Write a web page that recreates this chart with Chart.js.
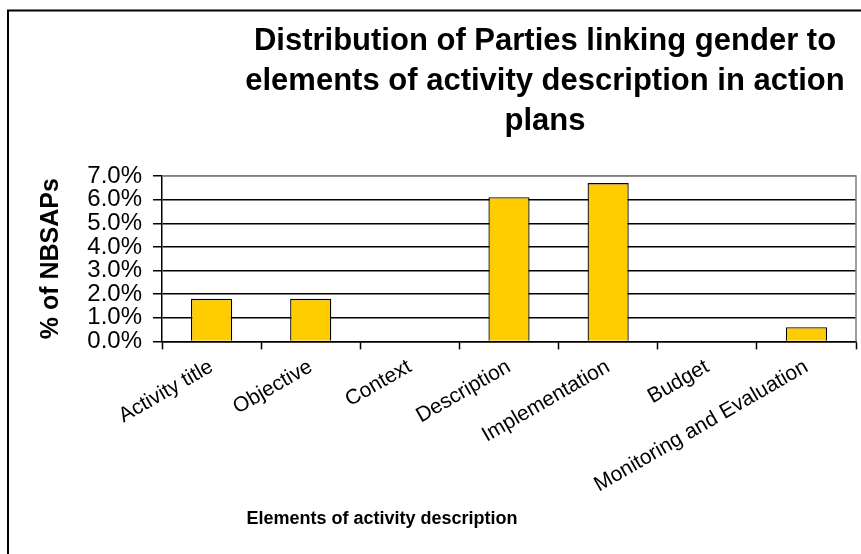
<!DOCTYPE html>
<html>
<head>
<meta charset="utf-8">
<script src="https://cdn.jsdelivr.net/npm/chart.js@4/dist/chart.umd.min.js"></script>
<style>
  html, body { margin: 0; padding: 0; background: #ffffff; }
  #wrap { width: 861px; height: 554px; }
</style>
</head>
<body>
<div id="wrap"><canvas id="c" width="861" height="554"></canvas></div>
<script>
// ---- data ----
const categories = ['Activity title', 'Objective', 'Context', 'Description', 'Implementation', 'Budget', 'Monitoring and Evaluation'];
const shareOfNBSAPs = [1.8, 1.8, 0, 6.1, 6.7, 0, 0.6];   // % of NBSAPs
const yTicks = [0, 1, 2, 3, 4, 5, 6, 7];                  // percent tick values
const titleLines = ['Distribution of Parties linking gender to', 'elements of activity description in action', 'plans'];
const xTitle = 'Elements of activity description';
const yTitle = '% of NBSAPs';

const FONT = "'Liberation Sans', Arial, sans-serif";

const placeTitles = {
  id: 'placeTitles',
  afterLayout(chart) {
    chart.boxes.forEach(b => {
      if (!b.options || typeof b.options.text === 'undefined') return;
      if (b === chart.titleBlock) { b.left = 224; b.right = 866; }
      else if (b.options.text === xTitle) { b.left = 182; b.right = 582; }
    });
  }
};

const frame = {
  id: 'frame',
  afterDraw(chart) {
    const ctx = chart.ctx, a = chart.chartArea;
    ctx.save();
    ctx.strokeStyle = '#000';
    ctx.lineWidth = 2;
    ctx.beginPath();
    ctx.moveTo(8, 560); ctx.lineTo(8, 10.5); ctx.lineTo(870, 10.5);
    ctx.stroke();
    ctx.strokeStyle = '#808080';
    ctx.lineWidth = 1.5;
    ctx.beginPath();
    ctx.moveTo(a.left, a.top); ctx.lineTo(a.right, a.top); ctx.lineTo(a.right, a.bottom);
    ctx.stroke();
    ctx.restore();
  }
};

new Chart(document.getElementById('c'), {
  type: 'bar',
  data: {
    labels: categories,
    datasets: [{
      data: shareOfNBSAPs,
      backgroundColor: '#FFCC00',
      borderColor: '#000000',
      borderWidth: 1.3,
      borderSkipped: 'start',
      barPercentage: 0.415,
      categoryPercentage: 1.0
    }]
  },
  options: {
    responsive: false,
    animation: false,
    devicePixelRatio: 1,
    layout: { padding: { left: 0, right: 5, top: 21, bottom: 0 } },
    plugins: {
      legend: { display: false },
      tooltip: { enabled: false },
      title: {
        display: true,
        text: titleLines,
        color: '#000',
        font: { family: FONT, size: 31, weight: 'bold', lineHeight: 40 / 31 },
        padding: { top: 0, bottom: 35 }
      },
      subtitle: {
        display: true,
        position: 'bottom',
        text: xTitle,
        color: '#000',
        font: { family: FONT, size: 18, weight: 'bold', lineHeight: 1.2 },
        padding: { top: 0, bottom: 24 }
      }
    },
    scales: {
      x: {
        grid: { display: true, drawOnChartArea: false, drawTicks: true, tickLength: 8, tickColor: '#000', tickWidth: 1.5, offset: true },
        border: { display: true, color: '#000', width: 1.5 },
        ticks: {
          color: '#000',
          font: { family: FONT, size: 21 },
          autoSkip: false,
          maxRotation: 30,
          minRotation: 30,
          padding: 5
        },
        afterFit(scale) { scale.height = 167; }
      },
      y: {
        min: 0,
        max: 7,
        afterBuildTicks(scale) { scale.ticks = yTicks.map(v => ({ value: v })); },
        grid: {
          color: ctx => (ctx.tick && ctx.tick.value === 7 ? '#808080' : '#000'),
          lineWidth: 1.5,
          drawTicks: true,
          tickLength: 9,
          tickColor: '#000'
        },
        border: { display: true, color: '#000', width: 1.5 },
        ticks: {
          color: '#000',
          font: { family: FONT, size: 24 },
          autoSkip: false,
          padding: 11,
          callback: v => Number(v).toFixed(1) + '%'
        },
        title: {
          display: true,
          text: yTitle,
          color: '#000',
          font: { family: FONT, size: 25, weight: 'bold', lineHeight: 1.2 },
          padding: { top: 36, bottom: 0 }
        },
        afterFit(scale) { scale.width = 162; }
      }
    }
  },
  plugins: [placeTitles, frame]
});
</script>
</body>
</html>
